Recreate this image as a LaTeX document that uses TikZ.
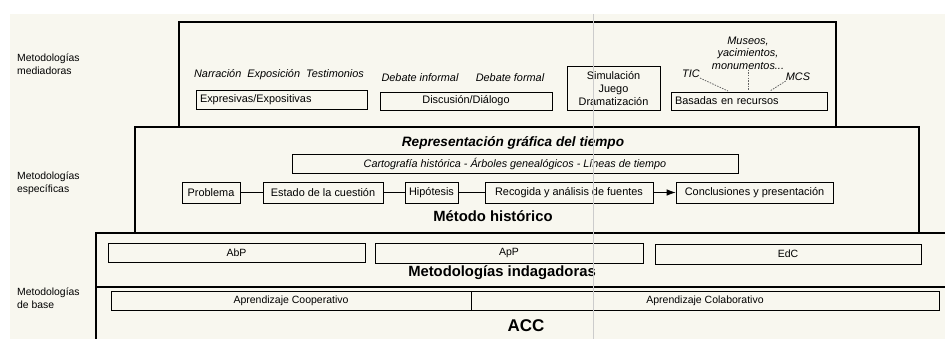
\documentclass[tikz,border=0pt]{standalone}
\usepackage{fontspec}
\setmainfont{Liberation Sans}
\usetikzlibrary{arrows.meta}
\definecolor{cream}{HTML}{F8F7EF}
\tikzset{
  box/.style={draw,line width=0.7pt,inner sep=1pt,font=\fontsize{10.9}{13}\selectfont},
  boxl/.style={box,align=left,inner sep=4pt},
  lbl/.style={inner sep=0pt,font=\fontsize{10.9}{12.5}\selectfont\itshape},
  side/.style={inner sep=0pt,align=left,anchor=north west,font=\fontsize{10.4}{13}\selectfont},
  small/.style={box,font=\fontsize{10.5}{12}\selectfont},
  frame/.style={line width=1.5pt},
  dots/.style={dash pattern=on 1.5pt off 1.2pt,gray!80!black,line width=0.8pt}
}
\begin{document}
\begin{tikzpicture}[x=1pt,y=-1pt]
\useasboundingbox (0,0) rectangle (945,339);
\fill[cream] (10,14) rectangle (945,339);

\draw[frame] (179,127) -- (179,22) -- (836,22) -- (836,127);
\draw[frame] (135,127) rectangle (919,233);
\draw[frame] (96,339) -- (96,233) -- (945,233);
\draw[frame] (96,287) -- (945,287);

\node[side] (s1) at (17,54) {Metodologías\\mediadoras};
\node[side] (s2) at (17,172) {Metodologías\\específicas};
\node[side] (s3) at (17,288) {Metodologías\\de base};

\node[lbl] (nar) at (279,75) {Narración\ \ Exposición\ \ Testimonios};
\node[lbl] (dinf) at (420,78) {Debate informal};
\node[lbl] (dfor) at (510,78) {Debate formal};
\node[lbl,align=center] (mus) at (748,53) {Museos,\\yacimientos,\\monumentos...};
\node[lbl] (tic) at (691,74) {TIC};
\node[lbl] (mcs) at (798,77) {MCS};

\node[boxl,minimum height=19pt,text width=163pt] (expr) at (281.5,100) {Expresivas/Expositivas};
\node[box,minimum width=172pt,minimum height=18pt] (disc) at (466,101) {Discusión/Diálogo};
\node[box,align=center,minimum width=93pt,minimum height=44pt] (sim) at (613.5,88.5) {Simulación\\Juego\\Dramatización};
\node[boxl,minimum height=18pt,text width=148pt] (recu) at (749,101) {Basadas en recursos};
\coordinate (c1) at (728,91);
\coordinate (c2) at (748,91);
\coordinate (c3) at (770,91);
\draw[dots] (tic.south east) -- (c1);
\draw[dots] (mus.south) -- (c2);
\draw[dots] (mcs.south west) -- (c3);

\node[inner sep=0pt,font=\fontsize{13.6}{16}\selectfont\bfseries\itshape] (rep) at (513,143) {Representación gráfica del tiempo};
\node[box,minimum width=446pt,minimum height=19pt,font=\fontsize{10.8}{12}\selectfont\itshape] (carto) at (515,163.5) {Cartografía histórica - Árboles genealógicos - Líneas de tiempo};
\node[box,minimum width=58pt,minimum height=21pt] (prob) at (211,192.5) {Problema};
\node[box,minimum width=120pt,minimum height=21pt] (est) at (323,192.5) {Estado de la cuestión};
\node[box,minimum width=53pt,minimum height=21pt] (hip) at (431.5,192.5) {Hipótesis};
\node[box,minimum width=168pt,minimum height=21pt] (reco) at (569,192.5) {Recogida y análisis de fuentes};
\node[box,minimum width=157pt,minimum height=21pt] (conc) at (754.5,192.5) {Conclusiones y presentación};
\draw[line width=0.7pt] (prob) -- (est);
\draw[line width=0.7pt] (est) -- (hip);
\draw[line width=0.7pt] (hip) -- (reco);
\draw[line width=0.7pt,-{Latex[length=9pt,width=6.5pt]}] (reco) -- (conc);
\node[inner sep=0pt,font=\fontsize{14.8}{17}\selectfont\bfseries] (met) at (493,216) {Método histórico};

\node[small,minimum width=257pt,minimum height=19pt] (abp) at (236.5,252.5) {AbP};
\node[small,minimum width=268pt,minimum height=20pt] (app) at (509,253) {ApP};
\node[small,minimum width=266pt,minimum height=20pt] (edc) at (788,254) {EdC};
\node[inner sep=0pt,font=\fontsize{14.8}{17}\selectfont\bfseries] (ind) at (502,273) {Metodologías indagadoras};

\node[small,minimum width=360pt,minimum height=19pt] (coop) at (291,300.5) {Aprendizaje Cooperativo};
\node[small,minimum width=468pt,minimum height=19pt] (cola) at (705,300.5) {Aprendizaje Colaborativo};
\node[inner sep=0pt,font=\fontsize{17}{19}\selectfont\bfseries] (acc) at (526,326) {ACC};

\draw[gray!40,line width=0.6pt] (593,14) -- (593,339);
\end{tikzpicture}
\end{document}
